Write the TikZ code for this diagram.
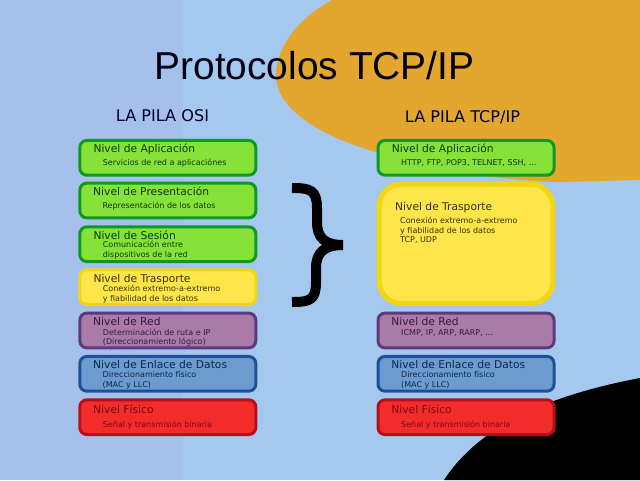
\documentclass[tikz,border=0pt]{standalone}
\usepackage{fontspec}
\setmainfont{DejaVu Sans}
\newfontfamily\titlefont{Liberation Sans}
\definecolor{bgleft}{HTML}{A6C0EC}
\definecolor{bgright}{HTML}{A5C8EF}
\definecolor{orangeb}{HTML}{E3A62F}
\definecolor{gfill}{HTML}{86E238}
\definecolor{gline}{HTML}{0E9A22}
\definecolor{yfill}{HTML}{FDE54A}
\definecolor{yline}{HTML}{F3D612}
\definecolor{pfill}{HTML}{AB7BA8}
\definecolor{pline}{HTML}{5C3A80}
\definecolor{bfill}{HTML}{6C9BD0}
\definecolor{bline}{HTML}{1F4F94}
\definecolor{rfill}{HTML}{F22B2B}
\definecolor{rline}{HTML}{B5101C}
\definecolor{gtxt}{HTML}{0B3A10}
\definecolor{ytxt}{HTML}{3A3208}
\definecolor{ptxt}{HTML}{2E1C44}
\definecolor{btxt}{HTML}{0E2748}
\definecolor{rtxt}{HTML}{7A0A12}
\tikzset{
  x=1pt,y=-1pt,
  levelbox/.style={rounded corners=7pt,line width=3pt,minimum width=176pt,minimum height=34.7pt,inner sep=0pt},
  gbox/.style={levelbox,draw=gline,fill=gfill},
  ybox/.style={levelbox,draw=yline,fill=yfill},
  pbox/.style={levelbox,draw=pline,fill=pfill},
  bbox/.style={levelbox,draw=bline,fill=bfill},
  rbox/.style={levelbox,draw=rline,fill=rfill},
  head/.style={anchor=base west,inner sep=0pt,font=\fontsize{10.7}{12}\selectfont},
  body/.style={anchor=base west,inner sep=0pt,align=left,font=\fontsize{8}{9.7}\selectfont},
  stacktitle/.style={inner sep=0pt,anchor=base,text=black!85!blue,font=\fontsize{16.1}{18}\selectfont},
  bracestroke/.style={draw=black,line width=10pt},
}
\begin{document}
\begin{tikzpicture}
\useasboundingbox (0,0) rectangle (640,480);
\fill[bgright] (0,0) rectangle (640,480);
\fill[bgleft] (0,0) rectangle (183,480);
% decorative shapes
\fill[orangeb] (332,0) .. controls (295,20) and (276,50) .. (276,75)
  .. controls (276,105) and (310,130) .. (360,147)
  .. controls (420,168) and (500,181) .. (560,182)
  -- (640,180) -- (640,0) -- cycle;
\fill[black] (444,480) .. controls (480,425) and (550,395) .. (640,378) -- (640,480) -- cycle;
\node[inner sep=0pt,anchor=base,font=\titlefont\fontsize{38.9}{44}\selectfont,text=black!92!blue] (title) at (314.5,79.5) {Protocolos TCP/IP};
\node[stacktitle] (osi) at (162.5,121) {LA PILA OSI};
\node[stacktitle] (tcp) at (462.5,122) {LA PILA TCP/IP};
% left stack
\node[gbox] (a1) at (167.8,157.8) {};
\node[head,text=gtxt] (a1h) at (93.3,152.7) {Nivel de Aplicación};
\node[body,text=gtxt] (a1b) at (102.7,165) {Servicios de red a aplicaciónes};
\node[gbox] (a2) at (167.8,200.5) {};
\node[head,text=gtxt] (a2h) at (93,195.3) {Nivel de Presentación};
\node[body,text=gtxt] (a2b) at (102.3,208.3) {Representación de los datos};
\node[gbox] (a3) at (167.8,244.2) {};
\node[head,text=gtxt] (a3h) at (93.3,239) {Nivel de Sesión};
\node[body,text=gtxt] (a3b) at (102.7,257) {Comunicación entre\\dispositivos de la red};
\node[ybox] (a4) at (167.8,287.2) {};
\node[head,text=ytxt] (a4h) at (93.3,282.7) {Nivel de Trasporte};
\node[body,text=ytxt] (a4b) at (102.7,301.3) {Conexión extremo-a-extremo\\y fiabilidad de los datos};
\node[pbox] (a5) at (167.8,330.5) {};
\node[head,text=ptxt] (a5h) at (93,325.7) {Nivel de Red};
\node[body,text=ptxt] (a5b) at (102.7,344.7) {Determinación de ruta e IP\\(Direccionamiento lógico)};
\node[bbox] (a6) at (167.8,373.8) {};
\node[head,text=btxt] (a6h) at (93,368.3) {Nivel de Enlace de Datos};
\node[body,text=btxt] (a6b) at (102.5,387.3) {Direccionamiento físico\\(MAC y LLC)};
\node[rbox] (a7) at (167.8,417.2) {};
\node[head,text=rtxt] (a7h) at (93,413.3) {Nivel Físico};
\node[body,text=rtxt] (a7b) at (102.7,427.3) {Señal y transmisión binaria};
% brace
\draw[bracestroke] (292,188) .. controls (310,188) and (317,190) .. (317,208) -- (317,222)
  .. controls (317,238) and (325,245) .. (343,245);
\draw[bracestroke] (292,302) .. controls (310,302) and (316,300) .. (316,282) -- (316,268)
  .. controls (316,252) and (325,245) .. (343,245);
% right stack
\node[gbox] (b1) at (466,157.8) {};
\node[head,text=gtxt] (b1h) at (391.7,152.7) {Nivel de Aplicación};
\node[body,text=gtxt] (b1b) at (401,165) {HTTP, FTP, POP3, TELNET, SSH, ...};
\node[ybox,rounded corners=22pt,line width=5pt,minimum width=173.6pt,minimum height=119.3pt] (b2) at (466,243.8) {};
\node[head,text=ytxt] (b2h) at (395,210) {Nivel de Trasporte};
\node[body,text=ytxt] (b2b) at (400,242.7) {Conexión extremo-a-extremo\\y fiabilidad de los datos\\TCP, UDP};
\node[pbox] (b3) at (466,330.5) {};
\node[head,text=ptxt] (b3h) at (391.2,325.3) {Nivel de Red};
\node[body,text=ptxt] (b3b) at (401,335.3) {ICMP, IP, ARP, RARP, ...};
\node[bbox] (b4) at (466,373.8) {};
\node[head,text=btxt] (b4h) at (391.2,368) {Nivel de Enlace de Datos};
\node[body,text=btxt] (b4b) at (401,387.3) {Direccionamiento físico\\(MAC y LLC)};
\node[rbox] (b5) at (466,417.2) {};
\node[head,text=rtxt] (b5h) at (391.2,413.3) {Nivel Físico};
\node[body,text=rtxt] (b5b) at (401,427.3) {Señal y transmisión binaria};
\end{tikzpicture}
\end{document}
